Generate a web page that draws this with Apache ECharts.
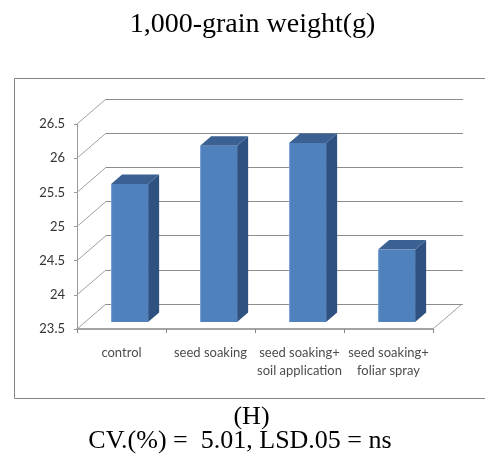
<!DOCTYPE html>
<html><head><meta charset="utf-8">
<script src="https://cdn.jsdelivr.net/npm/echarts@6/dist/echarts.min.js"></script>
<style>html,body{margin:0;padding:0;background:#fff}#c{width:485px;height:457px}</style>
</head><body><div id="c"></div>
<script>
const categories = ['control', 'seed soaking', 'seed soaking+\nsoil application', 'seed soaking+\nfoliar spray'];
const values = [25.52, 26.08, 26.12, 24.56];
const yTicks = [23.5, 24, 24.5, 25, 25.5, 26, 26.5];
const titleText = '1,000-grain weight(g)';
const panelText = '(H)';
const statsText = 'CV.(%) =  5.01, LSD.05 = ns';

const DX = 29, DY = -25;      // 3D depth offset of the back wall
const F0 = 0.28, FD = 0.38;   // bar front position and bar depth (fraction of depth)
const BAR_W = 37;
const yMin = yTicks[0], yMax = yTicks[yTicks.length - 1], yStep = yTicks[1] - yTicks[0];

const chart = echarts.init(document.getElementById('c'), null, {renderer: 'canvas'});

const gridLine = '#8c8c8c';

const option = {
  animation: false,
  backgroundColor: '#fff',
  grid: [
    {left: 106, top: 99, width: 357, height: 205, outerBoundsMode: 'none'},
    {left: 77, top: 124, width: 356, height: 205, outerBoundsMode: 'none'}
  ],
  xAxis: [
    {gridIndex: 0, type: 'category', data: categories, show: false},
    {gridIndex: 1, type: 'category', data: categories,
      axisLine: {show: true, lineStyle: {color: '#868686', width: 1.5}},
      axisTick: {show: true, length: 4, lineStyle: {color: '#868686'}},
      axisLabel: {interval: 0, fontFamily: 'Lato', fontSize: 13, color: '#4d4d4d', margin: 15, lineHeight: 18},
      splitLine: {show: false}}
  ],
  yAxis: [
    {gridIndex: 0, type: 'value', min: yMin, max: yMax, interval: yStep,
      axisLine: {show: false}, axisTick: {show: false}, axisLabel: {show: false},
      splitLine: {show: true, lineStyle: {color: gridLine, width: 1}}},
    {gridIndex: 1, type: 'value', min: yMin, max: yMax, interval: yStep,
      axisLine: {show: true, lineStyle: {color: '#9a9a9a', width: 1}},
      axisTick: {show: true, length: 3, lineStyle: {color: '#9a9a9a'}},
      axisLabel: {fontFamily: 'Lato', fontSize: 13, color: '#333', margin: 12},
      splitLine: {show: false}}
  ],
  series: [
    {
      type: 'custom', xAxisIndex: 1, yAxisIndex: 1, silent: true, z: 1,
      data: yTicks.map(v => [0, v]),
      renderItem(params, api) {
        const v = api.value(1);
        const p = api.coord([0, v]);
        const bw = api.size([1, 0])[0];
        const x0 = p[0] - bw / 2;
        return {type: 'line', shape: {x1: x0, y1: p[1], x2: x0 + DX, y2: p[1] + DY},
          style: {stroke: '#a0a0a0', lineWidth: 1}};
      }
    },
    {
      type: 'custom', xAxisIndex: 1, yAxisIndex: 1, silent: true, z: 1,
      data: [[categories.length - 1, yMin]],
      renderItem(params, api) {
        const p = api.coord([api.value(0), api.value(1)]);
        const bw = api.size([1, 0])[0];
        const x0 = p[0] + bw / 2;
        return {type: 'line', shape: {x1: x0, y1: p[1], x2: x0 + DX, y2: p[1] + DY},
          style: {stroke: '#a0a0a0', lineWidth: 1}};
      }
    },
    {
      type: 'custom', xAxisIndex: 1, yAxisIndex: 1, silent: true, z: 3,
      data: values.map((v, i) => [i, v]),
      renderItem(params, api) {
        const i = api.value(0), v = api.value(1);
        const base = api.coord([i, yMin]);
        const top = api.coord([i, v]);
        const fx = F0 * DX, fy = F0 * DY, dx = FD * DX, dy = FD * DY;
        const xl = base[0] + fx - BAR_W / 2, xr = xl + BAR_W;
        const yb = base[1] + fy, yt = top[1] + fy;
        return {
          type: 'group',
          children: [
            {type: 'polygon', shape: {points: [[xr, yt], [xr + dx, yt + dy], [xr + dx, yb + dy], [xr, yb]]},
              style: {fill: '#2f5181'}},
            {type: 'polygon', shape: {points: [[xl, yt], [xl + dx, yt + dy], [xr + dx, yt + dy], [xr, yt]]},
              style: {fill: '#3b6192'}},
            {type: 'rect', shape: {x: xl, y: yt, width: BAR_W, height: yb - yt},
              style: {fill: '#4f81bd'}},
            {type: 'line', shape: {x1: xl + 0.5, y1: yt, x2: xl + 0.5, y2: yb},
              style: {stroke: '#7da5d6', lineWidth: 1}}
          ]
        };
      }
    }
  ],
  graphic: [
    {type: 'rect', z: -1, shape: {x: 14.5, y: 78.5, width: 480, height: 320},
      style: {fill: null, stroke: '#858585', lineWidth: 1}},
    {type: 'text', x: 252.5, y: 25, style: {text: titleText, font: '28px "Liberation Serif"', fill: '#000',
      textAlign: 'center', textVerticalAlign: 'middle'}},
    {type: 'text', x: 251.5, y: 417, style: {text: panelText, font: '26px "Liberation Serif"', fill: '#000',
      textAlign: 'center', textVerticalAlign: 'middle'}},
    {type: 'text', x: 240, y: 441, style: {text: statsText, font: '26px "Liberation Serif"', fill: '#000',
      textAlign: 'center', textVerticalAlign: 'middle'}}
  ]
};
chart.setOption(option);
</script>
</body></html>
